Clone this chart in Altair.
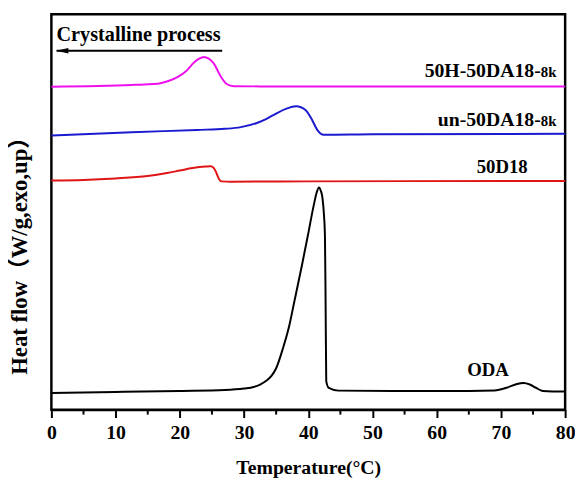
import altair as alt
import pandas as pd

# Temperature (°C) and heat flow (arbitrary units, exo up)
t_mag = [0, 12.5, 14.5, 16.6, 18.1, 19.7, 21, 22.2, 23, 23.75, 24.5, 25.3, 26.3, 27.3, 28.4, 35, 50, 80]
v_mag = [327.5, 329.3, 329.8, 330.6, 333, 337.5, 343.5, 352, 356, 357.7, 356, 351, 338.7, 330.3, 328, 327.8, 327.8, 327.8]

t_blue = [0, 12.5, 22.7, 27, 29.5, 31.9, 33.5, 35, 36.5, 38.1, 39.6, 40.6, 41.4, 42.4, 50, 80]
v_blue = [278, 281.3, 283.7, 284.8, 286.5, 290.5, 295, 300.3, 305, 307.7, 303.7, 293.7, 283.7, 278.7, 279.2, 279.7]

t_red = [0, 5, 10, 15, 18, 20, 22, 24, 24.8, 25.3, 25.7, 26.1, 26.5, 28, 40, 80]
v_red = [232.5, 233, 234.5, 237, 240, 242.5, 245, 246.5, 246.8, 245, 240, 234, 231.5, 231.2, 231.5, 232]

t_oda = [0, 10, 20, 27, 30, 31.5, 32.5, 33.5, 34.3, 35, 36, 37, 37.8, 39, 39.9, 40.9, 41.3, 41.67,
         41.95, 42.2, 42.45, 42.6, 42.7, 42.8, 43.2, 44.7, 55, 65, 69, 71, 72.5, 73.5, 74.5,
         75.5, 76.5, 78, 80]
v_oda = [17, 18, 19, 20, 21.5, 23, 25.5, 29.5, 34.5, 42, 61, 84, 108.7, 146, 175.3, 208.7, 220, 225.3,
         222, 215.3, 197, 175.3, 109, 29, 22, 19.3, 19, 19, 19.5, 22.5, 26, 27, 25.5,
         22, 19, 18.5, 18.5]

series_names = ["50H-50DA18-8k", "un-50DA18-8k", "50D18", "ODA"]
series_colors = ["#ee11ee", "#1a1ad0", "#e01515", "#000000"]

major_ticks = [0, 10, 20, 30, 40, 50, 60, 70, 80]
minor_ticks = [5, 15, 25, 35, 45, 55, 65, 75]

FONT = "Liberation Serif"

rows = []
for name, ts, vs in zip(series_names, [t_mag, t_blue, t_red, t_oda], [v_mag, v_blue, v_red, v_oda]):
    for t, v in zip(ts, vs):
        rows.append({"series": name, "T": t, "v": v})
df = pd.DataFrame(rows)

xscale = alt.Scale(domain=[0, 80], nice=False)
yscale = alt.Scale(domain=[0, 401], nice=False, zero=False)

lines = alt.Chart(df).mark_line(strokeWidth=2, interpolate="monotone").encode(
    x=alt.X("T:Q", scale=xscale, axis=alt.Axis(
        values=major_ticks, title="Temperature(°C)", grid=False,
        tickSize=8, tickWidth=2, tickColor="black",
        domainColor="black", domainWidth=2,
        labelFont=FONT, labelFontSize=20, labelFontWeight="bold", labelColor="black",
        labelPadding=5, labelFlush=False,
        titleFont=FONT, titleFontSize=20, titleFontWeight="bold", titleColor="black",
        titleBaseline="alphabetic", titleY=65)),
    y=alt.Y("v:Q", scale=yscale, axis=alt.Axis(
        labels=False, ticks=False, domain=False, grid=False,
        title="Heat flow（W/g,exo,up）",
        titleFont="Liberation Serif, Noto Sans CJK SC", titleFontSize=23, titleFontWeight="bold",
        titleColor="black", titleX=-20, titleY=239)),
    color=alt.Color("series:N", scale=alt.Scale(domain=series_names, range=series_colors), legend=None),
)

minor = alt.Chart(pd.DataFrame({"T": minor_ticks})).mark_rule(color="black", strokeWidth=2).encode(
    x=alt.X("T:Q", scale=xscale), y=alt.value(401), y2=alt.value(406))

# annotations
arrow_x = [0.8, 26.6]
arrow_v = [364, 364]
arrow_line = alt.Chart(pd.DataFrame({"T": arrow_x, "v": arrow_v})).mark_line(color="black", strokeWidth=2).encode(
    x=alt.X("T:Q", scale=xscale), y=alt.Y("v:Q", scale=yscale))
arrow_head = alt.Chart(pd.DataFrame({"T": [1.7], "v": [364]})).mark_point(
    shape="M-1,0L1,-0.45L1,0.45Z", filled=True, color="black", opacity=1, size=150).encode(
    x=alt.X("T:Q", scale=xscale), y=alt.Y("v:Q", scale=yscale))

title_df = pd.DataFrame({"T": [0.8], "v": [374], "text": ["Crystalline process"]})
title_txt = alt.Chart(title_df).mark_text(font=FONT, fontSize=20.5, fontWeight="bold", align="left",
                                          baseline="alphabetic", color="black").encode(
    x=alt.X("T:Q", scale=xscale), y=alt.Y("v:Q", scale=yscale), text="text:N")

main_df = pd.DataFrame({"T": [76.2, 76.2], "v": [337, 288], "text": ["50H-50DA18-", "un-50DA18-"]})
main_txt = alt.Chart(main_df).mark_text(font=FONT, fontSize=20, fontWeight="bold", align="right",
                                        baseline="alphabetic", color="black").encode(
    x=alt.X("T:Q", scale=xscale), y=alt.Y("v:Q", scale=yscale), text="text:N")
sub_df = pd.DataFrame({"T": [76.2, 76.2], "v": [337, 288], "text": ["8k", "8k"]})
sub_txt = alt.Chart(sub_df).mark_text(font=FONT, fontSize=15, fontWeight="bold", align="left",
                                      baseline="alphabetic", color="black").encode(
    x=alt.X("T:Q", scale=xscale), y=alt.Y("v:Q", scale=yscale), text="text:N")
other_df = pd.DataFrame({"T": [70.2, 68.0], "v": [240, 34], "text": ["50D18", "ODA"]})
other_txt = alt.Chart(other_df).mark_text(font=FONT, fontSize=19, fontWeight="bold", align="center",
                                          baseline="alphabetic", color="black").encode(
    x=alt.X("T:Q", scale=xscale), y=alt.Y("v:Q", scale=yscale), text="text:N")

chart = alt.layer(lines, minor, arrow_line, arrow_head, title_txt, main_txt, sub_txt, other_txt).properties(
    width=521, height=401,
    autosize=alt.AutoSizeParams(type="none"),
    padding={"left": 44, "top": 3, "right": 10, "bottom": 68},
    background="white",
).configure_view(stroke="black", strokeWidth=2.5)

chart.save("out.html", embed_options={"renderer": "svg", "actions": False})
